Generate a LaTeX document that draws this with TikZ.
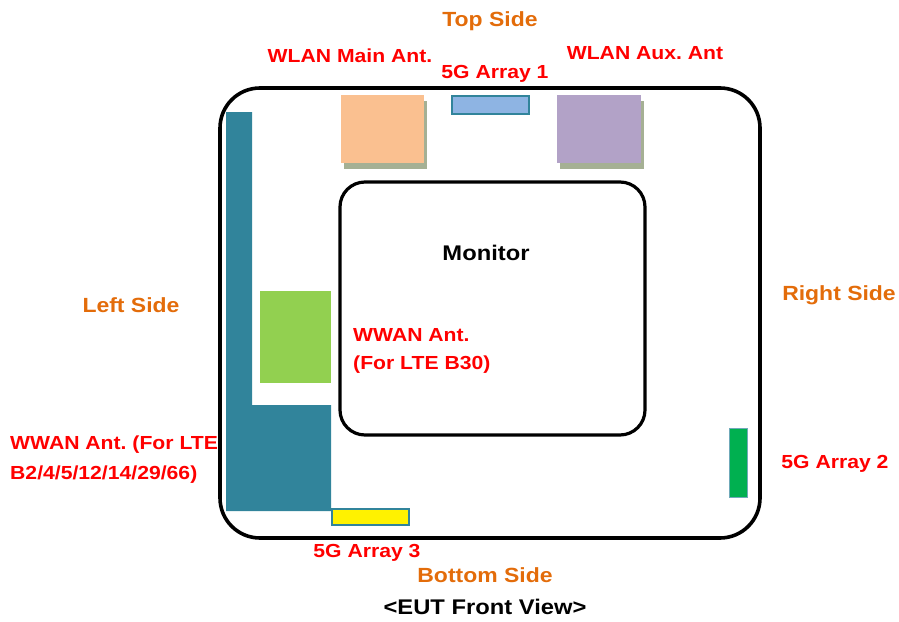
\documentclass[tikz,border=0pt]{standalone}
\usepackage{fontspec}
\setmainfont[FakeStretch=1.12]{Liberation Sans}
\usetikzlibrary{shadows}

\definecolor{sidecol}{RGB}{227,108,10}
\definecolor{tealcol}{RGB}{49,132,155}
\definecolor{shadowcol}{RGB}{165,176,148}
\definecolor{maincol}{RGB}{250,192,144}
\definecolor{auxcol}{RGB}{178,162,199}
\definecolor{arraycol}{RGB}{142,180,227}
\definecolor{b30col}{RGB}{146,208,80}
\definecolor{arraytwocol}{RGB}{0,176,80}

\begin{document}
\frenchspacing
\begin{tikzpicture}[x=1pt,y=-1pt,
  ant/.style={inner sep=0pt,outer sep=0pt,anchor=north west},
  shad/.style={drop shadow={shadow xshift=3pt,shadow yshift=-6pt,fill=shadowcol,opacity=1}},
  redtxt/.style={text=red,font=\fontsize{18.9}{28}\selectfont\bfseries,inner sep=0pt},
  lbl/.style={redtxt,text height=13.5pt,text depth=0pt},
  blk/.style={text=black,font=\fontsize{21.2}{26}\selectfont\bfseries,inner sep=0pt,text height=15.2pt,text depth=0pt},
  side/.style={text=sidecol,font=\fontsize{20.5}{24}\selectfont\bfseries,inner sep=0pt,text height=14.7pt,text depth=0pt}]
\useasboundingbox (0,0) rectangle (899,621);

\node [draw,line width=3.6pt,rounded corners=40pt,minimum width=540pt,minimum height=450pt,inner sep=0pt] (eut) at (490,313) {};
\node [draw,line width=3.2pt,rounded corners=25pt,minimum width=305pt,minimum height=253pt,inner sep=0pt] (monitor) at (492.5,308.5) {};

\fill[tealcol] (226,112) -- (252,112) -- (252,405) -- (331,405) -- (331,511) -- (226,511) -- cycle;

\node [ant,shad,fill=maincol,minimum width=83pt,minimum height=68pt] (wlanmain) at (341,95) {};
\node [ant,shad,fill=auxcol,minimum width=84pt,minimum height=68pt] (wlanaux) at (557,95) {};
\node [ant,fill=arraycol,draw=tealcol,line width=1.5pt,minimum width=77pt,minimum height=18pt] (array1) at (452,96) {};
\node [ant,fill=b30col,minimum width=71pt,minimum height=92pt] (wwanb30) at (260,291) {};
\node [ant,fill=arraytwocol,draw=tealcol!70,line width=0.8pt,minimum width=18pt,minimum height=69pt] (array2) at (729,428) {};
\node [ant,fill=yellow,draw=tealcol,line width=1.5pt,minimum width=77pt,minimum height=16pt] (array3) at (332,509) {};

\node [side] (top) at (490,19) {Top Side};
\node [side] (left) at (131,305) {Left Side};
\node [side] (right) at (839,293) {Right Side};
\node [side] (bottom) at (485,575) {Bottom Side};

\node [lbl] (mainlbl) at (350,56) {WLAN Main Ant.};
\node [lbl] (array1lbl) at (495,72) {5G Array 1};
\node [lbl] (auxlbl) at (645,53) {WLAN Aux. Ant};
\node [lbl] (array2lbl) at (835,462) {5G Array 2};
\node [lbl] (array3lbl) at (367,551) {5G Array 3};
\node [redtxt,align=left,anchor=north west] (b30lbl) at (353,328.5) {WWAN Ant.\\(For LTE B30)};
\node [redtxt,align=left,anchor=north west,font=\fontsize{18.9}{30}\selectfont\bfseries] (ltelbl) at (10,436) {WWAN Ant. (For LTE\\B2/4/5/12/14/29/66)};

\node [blk] (monlbl) at (486,253) {Monitor};
\node [blk] (view) at (485,607) {<EUT Front View>};

\end{tikzpicture}
\end{document}
